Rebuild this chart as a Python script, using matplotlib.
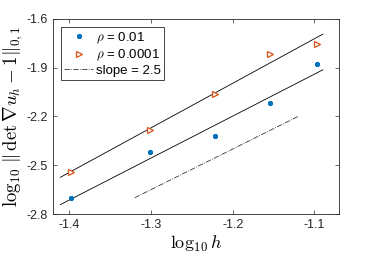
import numpy as np
import matplotlib
matplotlib.use('Agg')
import matplotlib.pyplot as plt

plt.rcParams['font.family'] = ['Liberation Sans', 'DejaVu Sans']
plt.rcParams['mathtext.fontset'] = 'cm'
plt.rcParams['axes.unicode_minus'] = False

# log10 of mesh size h = 0.04 ... 0.08
h = np.array([0.04, 0.05, 0.06, 0.07, 0.08])
logh = np.log10(h)

err_r01 = np.array([-2.70, -2.42, -2.32, -2.117, -1.877])      # rho = 0.01
err_r0001 = np.array([-2.54, -2.283, -2.06, -1.816, -1.753])   # rho = 0.0001

slope_x = np.array([-1.32, -1.12])
slope_y0 = -2.70

xticks = [-1.4, -1.3, -1.2, -1.1]
yticks = [-2.8, -2.5, -2.2, -1.9, -1.6]

blue = '#0072BD'
orange = '#D95319'

fig = plt.figure(figsize=(3.74, 2.56), dpi=100)
ax = fig.add_axes([0.142, 0.164, 0.764, 0.762])

# least squares fit lines
xfit = np.array([-1.411, -1.0895])
for y in (err_r01, err_r0001):
    p = np.polyfit(logh, y, 1)
    ax.plot(xfit, np.polyval(p, xfit), color='k', lw=0.6, zorder=1)

ax.plot(logh, err_r01, ls='none', marker=(8, 2, 0), ms=3.5, mec=blue, mew=1.0,
        color=blue, label=r'$\rho$ = 0.01', zorder=3)
ax.plot(logh, err_r0001, ls='none', marker='>', ms=5, mfc='white', mec=orange,
        mew=0.9, label=r'$\rho$ = 0.0001', zorder=3)
ax.plot(slope_x, slope_y0 + 2.5 * (slope_x - slope_x[0]), color='#333333',
        ls='-.', lw=0.6, label='slope = 2.5', zorder=2)

ax.set_xlim(-1.42, -1.07)
ax.set_ylim(-2.8, -1.6)
ax.set_xticks(xticks)
ax.set_yticks(yticks)
ax.set_xticklabels([f'{t:.1f}' for t in xticks])
ax.set_yticklabels([f'{t:.1f}' for t in yticks])
ax.tick_params(direction='in', top=True, right=True, length=3, width=0.5,
               labelsize=9, colors='#262626')
for s in ax.spines.values():
    s.set_linewidth(0.6)
    s.set_color('#262626')

ax.set_xlabel(r'$\log_{10} h$', fontsize=13, labelpad=2)
ax.set_ylabel(r'$\log_{10} \,\|\, \det \nabla u_h - 1\|_{0,1}$', fontsize=13.5,
              labelpad=1)

leg = ax.legend(loc='upper left', fontsize=9.5, handlelength=2.2,
                handletextpad=0.2, borderpad=0.25, labelspacing=0.15,
                fancybox=False, edgecolor='#262626', framealpha=1,
                borderaxespad=0.6)
leg.get_frame().set_linewidth(0.6)

fig.savefig('out.png', dpi=100)
